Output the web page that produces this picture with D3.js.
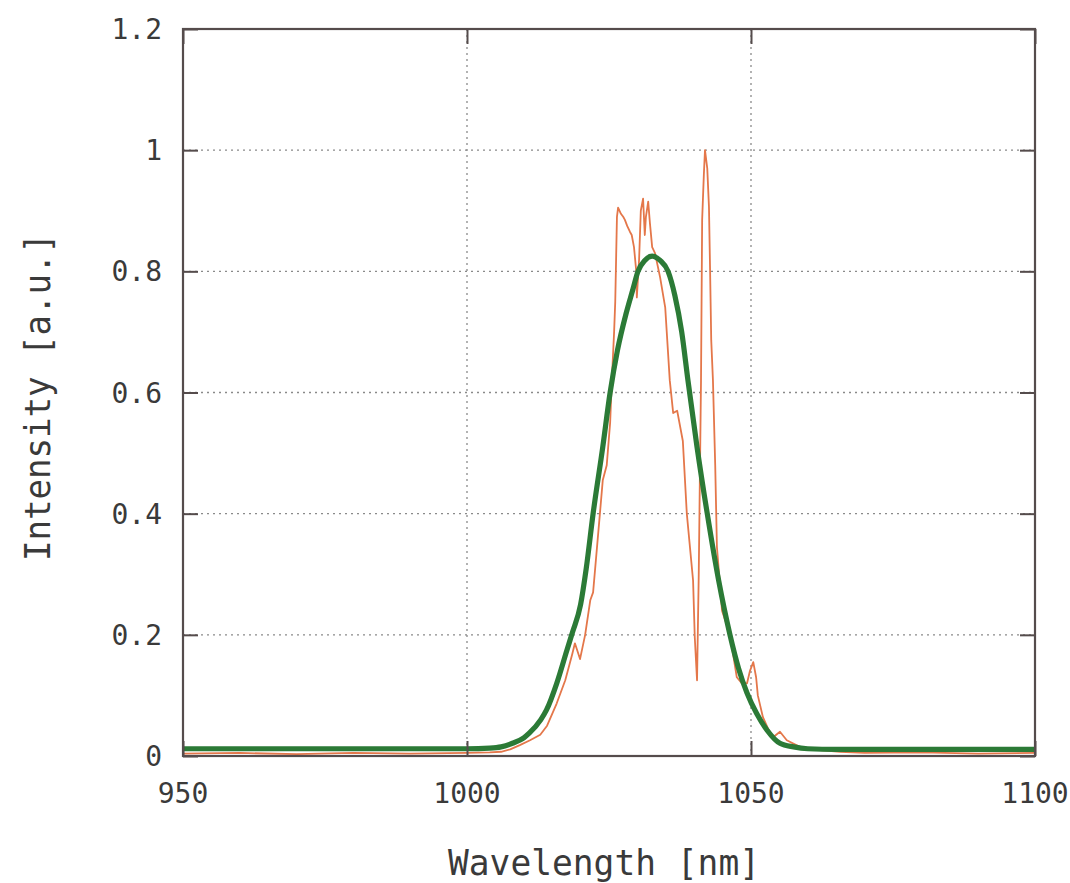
<!DOCTYPE html>
<html>
<head>
<meta charset="utf-8">
<script src="https://cdn.jsdelivr.net/npm/d3@7"></script>
<style>
  body { margin: 0; background: #fff; }
  text { font-family: "DejaVu Sans Mono", monospace; fill: #3a3a3a; }
</style>
</head>
<body>
<div id="chart"></div>
<script>
// values
var xTicks = [950, 1000, 1050, 1100];
var yTicks = [0, 0.2, 0.4, 0.6, 0.8, 1, 1.2];

// measured spectrum (orange)
var measWl = [950, 960, 970, 980, 990, 1000, 1004, 1006, 1007.6, 1009.3, 1011.1, 1012.9, 1014.1, 1015.8,
  1017.3, 1018.5, 1019.0, 1019.9, 1020.8, 1021.7, 1022.2, 1023.4, 1023.9, 1024.6, 1025.2, 1025.5,
  1025.9, 1026.1, 1026.4, 1026.6, 1027.1, 1027.5, 1027.8, 1028.2, 1028.7, 1029.0, 1029.4, 1029.8,
  1029.9, 1030.3, 1030.6, 1031.0, 1031.3, 1031.5, 1031.9, 1032.2, 1032.6, 1033.1, 1034.0, 1034.9,
  1035.7, 1036.3, 1037.0, 1038.0, 1038.7, 1039.8, 1040.1, 1040.5, 1040.8, 1041.2, 1041.4, 1041.7,
  1041.9, 1042.3, 1042.6, 1042.8, 1043.0, 1043.3, 1043.7, 1044.0, 1044.9, 1046.3, 1047.5, 1048.4,
  1049.3, 1049.8, 1050.4, 1050.9, 1051.2, 1052.1, 1053.0, 1053.9, 1055.1, 1056.3, 1058.6, 1061.6,
  1065.7, 1070, 1080, 1090, 1100];
var measVal = [0.004, 0.005, 0.003, 0.005, 0.004, 0.005, 0.006, 0.007, 0.011, 0.018, 0.026, 0.035, 0.05, 0.087,
  0.125, 0.167, 0.186, 0.16, 0.20, 0.257, 0.27, 0.40, 0.455, 0.48, 0.55, 0.62,
  0.70, 0.75, 0.89, 0.905, 0.895, 0.89, 0.885, 0.875, 0.865, 0.86, 0.84, 0.80,
  0.757, 0.82, 0.90, 0.92, 0.86, 0.89, 0.915, 0.88, 0.84, 0.83, 0.79, 0.74,
  0.62, 0.566, 0.57, 0.52, 0.40, 0.29, 0.196, 0.125, 0.30, 0.62, 0.885, 0.96,
  1.0, 0.97, 0.906, 0.80, 0.686, 0.62, 0.48, 0.345, 0.24, 0.20, 0.13, 0.12,
  0.12, 0.14, 0.155, 0.13, 0.10, 0.064, 0.045, 0.031, 0.04, 0.026, 0.015, 0.010,
  0.007, 0.005, 0.006, 0.004, 0.005];

// fitted curve (green)
var fitWl = [950, 970, 990, 1000, 1004, 1006, 1008, 1010, 1011, 1013, 1014, 1015.8, 1017.6, 1018.6, 1020,
  1021, 1022.2, 1023.9, 1025.2, 1026.5, 1028, 1029.2, 1030.1, 1031.3, 1032.6, 1034, 1035.4, 1036.6,
  1037.8, 1038.9, 1040.5, 1042.3, 1044.3, 1046.3, 1047.8, 1049.3, 1051, 1052.8, 1055.1, 1057.5, 1060,
  1065, 1080, 1100];
var fitVal = [0.012, 0.012, 0.012, 0.012, 0.013, 0.015, 0.021, 0.03, 0.038, 0.06, 0.076, 0.12, 0.175, 0.205, 0.25,
  0.31, 0.40, 0.51, 0.60, 0.67, 0.73, 0.77, 0.80, 0.818, 0.825, 0.818, 0.80, 0.76,
  0.70, 0.62, 0.51, 0.40, 0.29, 0.20, 0.145, 0.104, 0.07, 0.043, 0.021, 0.015, 0.012,
  0.011, 0.011, 0.011];

var W = 1070, H = 883;
var pL = 183, pR = 1035, pT = 29, pB = 756;

var svg = d3.select('#chart').append('svg')
  .attr('width', W)
  .attr('height', H);

var x = d3.scaleLinear().domain([950, 1100]).range([pL, pR]);
var y = d3.scaleLinear().domain([0, 1.2]).range([pB, pT]);

// dotted grid
svg.append('g').selectAll('line')
  .data(xTicks.slice(1, -1)).enter().append('line')
    .attr('x1', d => x(d)).attr('x2', d => x(d))
    .attr('y1', pT).attr('y2', pB)
    .attr('stroke', '#8a8a8a').attr('stroke-width', 1.3)
    .attr('stroke-dasharray', '2,4');
svg.append('g').selectAll('line')
  .data(yTicks.slice(1, -1)).enter().append('line')
    .attr('x1', pL).attr('x2', pR)
    .attr('y1', d => y(d)).attr('y2', d => y(d))
    .attr('stroke', '#8a8a8a').attr('stroke-width', 1.3)
    .attr('stroke-dasharray', '2,4');

var line = d3.line().x(d => x(d[0])).y(d => y(d[1]));

var meas = measWl.map((w, i) => [w, measVal[i]]);
var fit = fitWl.map((w, i) => [w, fitVal[i]]);

svg.append('path').datum(meas)
  .attr('d', line)
  .attr('fill', 'none')
  .attr('stroke', '#e4774a')
  .attr('stroke-width', 1.8)
  .attr('stroke-linejoin', 'round');

svg.append('path').datum(fit)
  .attr('d', line.curve(d3.curveMonotoneX))
  .attr('fill', 'none')
  .attr('stroke', '#2b7a36')
  .attr('stroke-width', 5.2)
  .attr('stroke-linejoin', 'round');

// axes with inward ticks on all four sides
var tk = 15;
svg.append('g').attr('transform', 'translate(0,' + pB + ')')
  .call(d3.axisBottom(x).tickValues(xTicks).tickSize(-tk).tickFormat(''));
svg.append('g').attr('transform', 'translate(0,' + pT + ')')
  .call(d3.axisTop(x).tickValues(xTicks).tickSize(-tk).tickFormat(''));
svg.append('g').attr('transform', 'translate(' + pL + ',0)')
  .call(d3.axisLeft(y).tickValues(yTicks).tickSize(-tk).tickFormat(''));
svg.append('g').attr('transform', 'translate(' + pR + ',0)')
  .call(d3.axisRight(y).tickValues(yTicks).tickSize(-tk).tickFormat(''));
svg.selectAll('.domain').remove();
svg.selectAll('.tick line').attr('stroke', '#554c4c').attr('stroke-width', 2);

svg.append('rect')
  .attr('x', pL).attr('y', pT)
  .attr('width', pR - pL).attr('height', pB - pT)
  .attr('fill', 'none').attr('stroke', '#554c4c').attr('stroke-width', 2.2);

// tick labels
svg.append('g').selectAll('text')
  .data(xTicks).enter().append('text')
    .attr('x', d => x(d)).attr('y', pB + 47)
    .attr('text-anchor', 'middle')
    .attr('font-size', 28)
    .text(d => d);
svg.append('g').selectAll('text')
  .data(yTicks).enter().append('text')
    .attr('x', pL - 21).attr('y', d => y(d) + 10)
    .attr('text-anchor', 'end')
    .attr('font-size', 28)
    .text(d => d);

// axis titles
svg.append('text')
  .attr('x', 448).attr('y', 875)
  .attr('font-size', 36)
  .attr('textLength', 312).attr('lengthAdjust', 'spacingAndGlyphs')
  .attr('fill', '#222')
  .text('Wavelength [nm]');
svg.append('text')
  .attr('transform', 'translate(50,561) rotate(-90)')
  .attr('font-size', 35)
  .attr('textLength', 328).attr('lengthAdjust', 'spacingAndGlyphs')
  .attr('fill', '#222')
  .text('Intensity [a.u.]');
</script>
</body>
</html>
